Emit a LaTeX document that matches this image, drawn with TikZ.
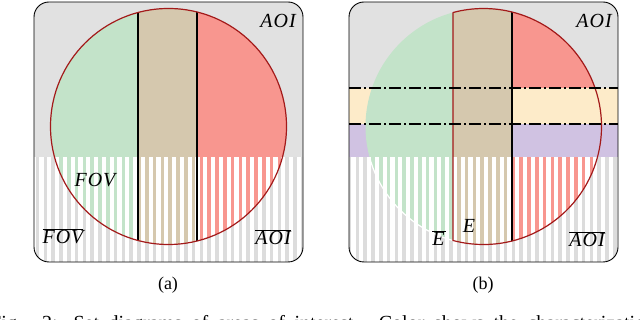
\documentclass[tikz,border=0pt]{standalone}
\usepackage{fontspec}
\setmainfont{Liberation Serif}
\newfontfamily\lblfont{Liberation Serif}[LetterSpace=5]
\usepackage{xcolor}
\definecolor{bggray}{HTML}{E1E1E1}
\definecolor{stripegray}{HTML}{DCDCDC}
\definecolor{fovgreen}{HTML}{C3E3C9}
\definecolor{overlaptan}{HTML}{D5C8AE}
\definecolor{aoired}{HTML}{F8968F}
\definecolor{bandpeach}{HTML}{FDEBC9}
\definecolor{bandlilac}{HTML}{D0C2E2}
\definecolor{rimred}{HTML}{A31A1A}
\newcommand{\hatchfill}[3]{\foreach \k in {#2,...,#3}{\draw[#1,line width=3.6pt] ({6.3+7.8*\k},50) -- ({6.3+7.8*\k},162.5);}}
\newcommand{\notset}[1]{$\overline{\hbox{#1}}$}

\begin{document}
\begin{tikzpicture}[
  x=1pt,y=1pt,
  panel/.style={draw=black,line width=0.9pt,rounded corners=15pt},
  rim/.style={draw=rimred,line width=1.2pt},
  divider/.style={draw=black,line width=1.2pt},
  cutline/.style={draw=black,line width=1.1pt,dash pattern=on 12pt off 3pt on 2pt off 3pt},
  lbl/.style={font=\lblfont\itshape\fontsize{20}{22}\selectfont,inner sep=0pt},
  sub/.style={font=\fontsize{18}{20}\selectfont,inner sep=0pt}
]
\useasboundingbox (0,0) rectangle (640,320);
\clip (0,0) rectangle (640,320);

\begin{scope}
  \clip[rounded corners=15pt] (34,58) rectangle (303,318);
  \fill[bggray] (34,162.5) rectangle (303,318);
  \hatchfill{stripegray}{3}{38}
  \begin{scope}
    \clip (168.5,193.5) circle[radius=118];
    \fill[fovgreen] (34,162.5) rectangle (138,318);
    \fill[overlaptan] (138,162.5) rectangle (197,318);
    \fill[aoired] (197,162.5) rectangle (303,318);
    \fill[white] (34,50) rectangle (303,162.5);
    \begin{scope}
      \clip (34,50) rectangle (138,162.5);
      \hatchfill{fovgreen}{3}{38}
    \end{scope}
    \begin{scope}
      \clip (138,50) rectangle (197,162.5);
      \hatchfill{overlaptan}{3}{38}
    \end{scope}
    \begin{scope}
      \clip (197,50) rectangle (303,162.5);
      \hatchfill{aoired}{3}{38}
    \end{scope}
    \draw[divider] (138,50) -- (138,318);
    \draw[divider] (197,50) -- (197,318);
  \end{scope}
\end{scope}
\draw[rim] (168.5,193.5) circle[radius=118];
\draw[panel] (34,58) rectangle (303,318);

\begin{scope}
  \clip[rounded corners=15pt] (349,58) rectangle (618,318);
  \fill[bggray] (349,162.5) rectangle (618,318);
  \fill[bandpeach] (349,196) rectangle (618,232);
  \fill[bandlilac] (349,162.5) rectangle (618,196);
  \hatchfill{stripegray}{44}{79}
  \begin{scope}
    \clip (483.5,193.5) circle[radius=118];
    \fill[fovgreen] (349,162.5) rectangle (453,318);
    \fill[overlaptan] (453,162.5) rectangle (512,318);
    \fill[aoired] (512,232) rectangle (618,318);
    \fill[white] (349,50) rectangle (618,162.5);
    \begin{scope}
      \clip (349,50) rectangle (453,162.5);
      \hatchfill{fovgreen}{44}{79}
    \end{scope}
    \begin{scope}
      \clip (453,50) rectangle (512,162.5);
      \hatchfill{overlaptan}{44}{79}
    \end{scope}
    \begin{scope}
      \clip (512,50) rectangle (618,162.5);
      \hatchfill{aoired}{44}{79}
    \end{scope}
    \draw[divider] (512,50) -- (512,318);
  \end{scope}
  \begin{scope}
    \clip (349,50) rectangle (453,162.5);
    \draw[white,line width=1.2pt] (483.5,193.5) circle[radius=118];
  \end{scope}
  \draw[rim] (453,307.5) -- (453,79.5) arc[start angle=-104.98,end angle=104.98,radius=118] -- cycle;
  \draw[cutline] (349,232) -- (618,232);
  \draw[cutline] (349,196) -- (618,196);
\end{scope}
\draw[panel] (349,58) rectangle (618,318);

\node[lbl] (aoiA) at (278,299) {AOI};
\node[lbl] (fovA) at (95,140) {FOV};
\node[lbl] (nfovA) at (63,84) {\notset{FOV}};
\node[lbl] (naoiA) at (273,83) {\notset{AOI}};
\node[lbl] (aoiB) at (594,299) {AOI};
\node[lbl] (eB) at (469,94) {E};
\node[lbl] (neB) at (439,82) {\notset{E\kern1pt}};
\node[lbl] (naoiB) at (587,81) {\notset{AOI}};
\node[sub] (subA) at (168,35) {(a)};
\node[sub] (subB) at (483,35) {(b)};
\node[anchor=base west,inner sep=0pt,font=\fontsize{20}{22}\selectfont] (figcap) at (-10,-10)
  {\makebox[665pt][s]{Fig. 2: Set diagrams of areas of interest. Color shows the characterization}};
\end{tikzpicture}
\end{document}
